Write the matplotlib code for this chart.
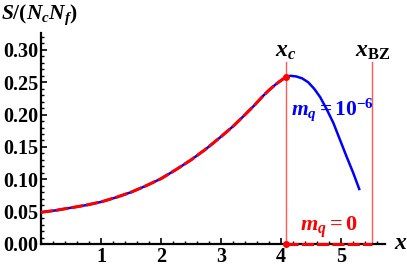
import numpy as np
import matplotlib.pyplot as plt
from matplotlib.ticker import MultipleLocator, FormatStrFormatter

plt.rcParams['font.family'] = 'Liberation Serif'
plt.rcParams['font.weight'] = 'bold'
plt.rcParams['mathtext.fontset'] = 'custom'
plt.rcParams['mathtext.rm'] = 'Liberation Serif:bold'
plt.rcParams['mathtext.it'] = 'Liberation Serif:italic:bold'
plt.rcParams['mathtext.bf'] = 'Liberation Serif:bold'

# curve
x_vals = [0.0, 0.25, 0.5, 0.75, 1.0, 1.25, 1.5, 1.75, 2.0, 2.25, 2.5, 2.75, 3.0,
          3.2, 3.4, 3.55, 3.7, 3.8, 3.9, 4.0, 4.08, 4.15, 4.25, 4.35, 4.45,
          4.55, 4.65, 4.76, 4.87, 4.98, 5.09, 5.2, 5.3]
s_mq6 = [0.049, 0.052, 0.056, 0.060, 0.065, 0.072, 0.080, 0.090, 0.101, 0.115,
         0.130, 0.147, 0.166, 0.182, 0.200, 0.214, 0.229, 0.238, 0.246, 0.253,
         0.258, 0.260, 0.259, 0.256, 0.250, 0.240, 0.227, 0.208, 0.187, 0.161,
         0.135, 0.110, 0.085]
x_c = 4.08
x_bz = 5.52
x_max = 5.73
y_max = 0.326

x_arr = np.array(x_vals)
s_arr = np.array(s_mq6)
mask0 = x_arr <= x_c

fig = plt.figure(figsize=(4.07, 2.69), dpi=100)
ax = fig.add_axes([0.1007, 0.093, 0.946 - 0.1007, 0.877 - 0.093])

# vertical markers
for xv in (x_c, x_bz):
    ax.plot([xv, xv], [0, 0.282], color='#ff5a5a', lw=1.0, zorder=2)

# m_q = 1e-6 (blue)
ax.plot(x_arr, s_arr, color='#0000ff', lw=1.8, zorder=3, solid_joinstyle='round')
# m_q = 0 (red dashed)
ax.plot(x_arr[mask0], s_arr[mask0], color='#ff0000', lw=2.2, zorder=4,
        dashes=(4, 1.0))
ax.plot([x_c, x_bz], [0, 0], color='#ff0000', lw=2.2, zorder=5, dashes=(4, 1.0),
        clip_on=False)
ax.plot([x_c, x_c], [s_arr[mask0][-1], 0], 'o', color='#ff0000', ms=4,
        zorder=6, clip_on=False)

ax.set_xlim(0, x_max)
ax.set_ylim(0, y_max)

for side in ('top', 'right'):
    ax.spines[side].set_visible(False)
for side in ('left', 'bottom'):
    ax.spines[side].set_linewidth(1.6)

ax.xaxis.set_major_locator(MultipleLocator(1))
ax.xaxis.set_minor_locator(MultipleLocator(0.2))
ax.yaxis.set_major_locator(MultipleLocator(0.05))
ax.yaxis.set_minor_locator(MultipleLocator(0.01))
ax.yaxis.set_major_formatter(FormatStrFormatter('%.2f'))
ax.set_xticks([1, 2, 3, 4, 5])
ax.tick_params(which='major', direction='in', length=4, width=1.2, labelsize=14.5, pad=2)
ax.tick_params(which='minor', direction='in', length=2, width=1.0)

fig.text(0.003, 0.944, r'$S/(N_c N_f)$', fontsize=15.5, ha='left', va='center')
ax.text(6.0, 0.0, r'$x$', fontsize=17, ha='center', va='center', clip_on=False)
ax.text(x_c, 0.297, r'$x_c$', fontsize=17, ha='center', va='center')
ax.text(x_bz, 0.297, r'$x_{\mathrm{BZ}}$', fontsize=17, ha='center', va='center')
ax.text(4.86, 0.208, r'$m_q = 10^{-6}$', fontsize=15.5, color='#0000ff',
        ha='center', va='center')
ax.text(4.8, 0.026, r'$m_q = 0$', fontsize=16, color='#ff0000',
        ha='center', va='center')

fig.savefig('out.png', dpi=100)
